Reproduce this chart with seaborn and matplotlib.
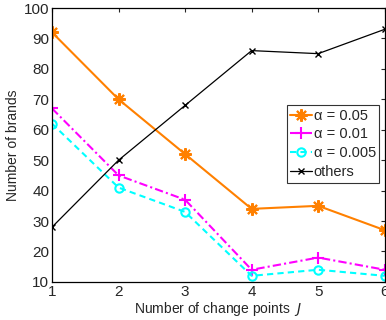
import matplotlib
matplotlib.use("Agg")
import matplotlib.pyplot as plt
import seaborn as sns

J = [1, 2, 3, 4, 5, 6]
a005 = [92, 70, 52, 34, 35, 27]
a001 = [67, 45, 37, 14, 18, 14]
a0005 = [62, 41, 33, 12, 14, 12]
others = [28, 50, 68, 86, 85, 93]
labels = ["α = 0.05", "α = 0.01", "α = 0.005", "others"]

sns.set_style("white")
plt.rcParams['font.family'] = ['Liberation Sans', 'DejaVu Sans']

fig = plt.figure(figsize=(3.86, 3.2), dpi=100)
ax = fig.add_axes([0.1347, 0.119, 0.862, 0.856])

colors = ["#ff8000", "#ff00ff", "#00ffff", "black"]
lstyles = ["-", (0, (4, 1.5, 1, 1.5)), (0, (3, 2)), "-"]
markers = [(8, 2, 0), "+", "o", "x"]
lws = [1.5, 1.5, 1.5, 0.9]
mss = [9, 8, 6, 5]
mews = [1.5, 1.5, 1.5, 1.0]

for vals, lab, c, ls, m, lw, ms, mew in zip([a005, a001, a0005, others], labels, colors,
                                            lstyles, markers, lws, mss, mews):
    sns.lineplot(x=J, y=vals, ax=ax, color=c, linestyle=ls, marker=m, linewidth=lw,
                 markersize=ms, markeredgewidth=mew, markerfacecolor='none',
                 markeredgecolor=c, label=lab, legend=False)

ax.set_xlim(1, 6)
ax.set_ylim(10, 100)
ax.set_xticks(J)
ax.set_yticks(range(10, 101, 10))
ax.tick_params(direction='in', top=True, right=True, labelsize=11, length=3, width=0.8, pad=2)
for s in ax.spines.values():
    s.set_linewidth(0.9)
    s.set_color('black')
ax.set_xlabel("Number of change points  $J$", fontsize=10, labelpad=1)
ax.set_ylabel("Number of brands", fontsize=10, labelpad=3)

leg = ax.legend(ax.lines, labels, loc='upper left', bbox_to_anchor=(0.705, 0.646),
                fontsize=10.5, frameon=True, fancybox=False, edgecolor='black',
                handlelength=1.5, handletextpad=0.1, borderpad=0.25, labelspacing=0.33,
                borderaxespad=0)
leg.get_frame().set_linewidth(0.8)

fig.savefig("out.png", dpi=100)
